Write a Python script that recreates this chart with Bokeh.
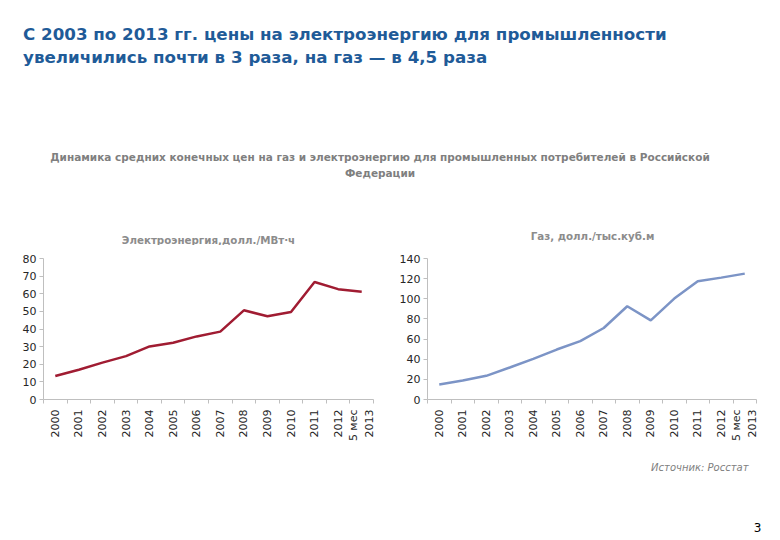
import numpy as np
from bokeh.plotting import figure
from bokeh.models import Range1d, LinearAxis, FixedTicker, ColumnDataSource
from bokeh.layouts import column, row
from bokeh.core.properties import value
from bokeh.embed import file_html
from bokeh.resources import INLINE

# ---- data ----
years = ["2000", "2001", "2002", "2003", "2004", "2005", "2006", "2007",
         "2008", "2009", "2010", "2011", "2012", "5 мес\n2013"]
electricity = [13.3, 16.9, 20.9, 24.6, 30.1, 32.2, 35.8, 38.5, 50.6, 47.2, 49.7, 66.7, 62.6, 61.2]
gas = [15.0, 18.8, 23.5, 31.8, 40.4, 49.6, 57.9, 71.0, 92.6, 78.6, 100.2, 117.4, 121.0, 125.0]
elec_ticks = [0, 10, 20, 30, 40, 50, 60, 70, 80]
gas_ticks = [0, 20, 40, 60, 80, 100, 120, 140]

title_lines = ["С 2003 по 2013 гг. цены на электроэнергию для промышленности",
               "увеличились почти в 3 раза, на газ — в 4,5 раза"]
subtitle_lines = ["Динамика средних конечных цен на газ и электроэнергию для промышленных потребителей в Российской",
                  "Федерации"]
elec_title = "Электроэнергия,долл./МВт·ч"
gas_title = "Газ, долл./тыс.куб.м"
source_text = "Источник: Росстат"
page_no = "3"

TITLE_BLUE = "#1F5B98"
GRAY_TXT = "#8C8C8C"
AXIS_GRAY = "#BFBFBF"
FONT = "DejaVu Sans"


def blank_fig(w, h):
    p = figure(width=w, height=h, x_range=Range1d(0, w), y_range=Range1d(h, 0),
               output_backend="svg", toolbar_location=None,
               x_axis_location=None, y_axis_location=None, min_border=0)
    p.outline_line_color = None
    p.grid.visible = False
    return p


# ---- header ----
header = blank_fig(780, 245)
header.text(x=[22.5, 22.5], y=[33.5, 56.5], text=title_lines,
            text_font=value(FONT), text_font_style="bold", text_font_size="16.7px",
            text_color=TITLE_BLUE, text_baseline="middle", text_align="left")
header.text(x=[379.5, 379.5], y=[156.5, 172], text=subtitle_lines,
            text_font=value(FONT), text_font_style="bold", text_font_size="10.5px",
            text_color="#7F7F7F", text_baseline="middle", text_align="center")
header.text(x=[208, 592], y=[239, 235], text=[elec_title, gas_title],
            text_font=value(FONT), text_font_style="bold", text_font_size="10.3px",
            text_color=GRAY_TXT, text_baseline="middle", text_align="center")


def make_chart(vals, ymax, ticks, color, w, h, left, right, top, bottom):
    n = len(years)
    centers = [i + 0.5 for i in range(n)]
    bounds = list(range(n + 1))
    p = figure(width=w, height=h, x_range=Range1d(0, n), y_range=Range1d(0, ymax),
               output_backend="svg", toolbar_location=None,
               x_axis_location=None, y_axis_location=None,
               min_border_left=left, min_border_right=right,
               min_border_top=top, min_border_bottom=bottom)
    p.outline_line_color = None
    p.grid.visible = False

    yax = LinearAxis(ticker=FixedTicker(ticks=ticks))
    yax.axis_line_color = AXIS_GRAY
    yax.major_tick_line_color = AXIS_GRAY
    yax.major_tick_in = 0
    yax.major_tick_out = 4
    yax.minor_tick_line_color = None
    yax.major_label_text_font = FONT
    yax.major_label_text_font_size = "11px"
    yax.major_label_text_color = "#262626"
    yax.major_label_standoff = 3
    p.add_layout(yax, "left")

    xax = LinearAxis(ticker=FixedTicker(ticks=centers, minor_ticks=bounds))
    xax.axis_line_color = AXIS_GRAY
    xax.major_tick_line_color = None
    xax.major_tick_in = 0
    xax.major_tick_out = 0
    xax.minor_tick_line_color = AXIS_GRAY
    xax.minor_tick_in = 0
    xax.minor_tick_out = 4
    xax.major_label_overrides = {c: lab for c, lab in zip(centers, years)}
    xax.major_label_orientation = np.pi / 2
    xax.major_label_text_font = FONT
    xax.major_label_text_font_size = "11px"
    xax.major_label_text_color = "#262626"
    xax.major_label_standoff = 6
    p.add_layout(xax, "below")

    src = ColumnDataSource(dict(x=centers, val=vals))
    p.line(x="x", y="val", source=src, line_color=color, line_width=2.5)
    return p


left_chart = make_chart(electricity, 80, elec_ticks, "#A01C32", 388, 205, 43, 15, 13, 51)
gas_chart = make_chart(gas, 140, gas_ticks, "#7C94C6", 392, 205, 39, 24, 7, 51)

# ---- footer ----
footer = blank_fig(780, 90)
footer.text(x=[748], y=[17], text=[source_text], text_font=value(FONT),
            text_font_style="italic", text_font_size="10px", text_color="#808080",
            text_baseline="middle", text_align="right")
footer.text(x=[757], y=[77], text=[page_no], text_font=value(FONT),
            text_font_size="12px", text_color="#000000",
            text_baseline="middle", text_align="center")

layout = column(header, row(left_chart, gas_chart), footer)

with open("out.html", "w") as f:
    f.write(file_html(layout, INLINE))
